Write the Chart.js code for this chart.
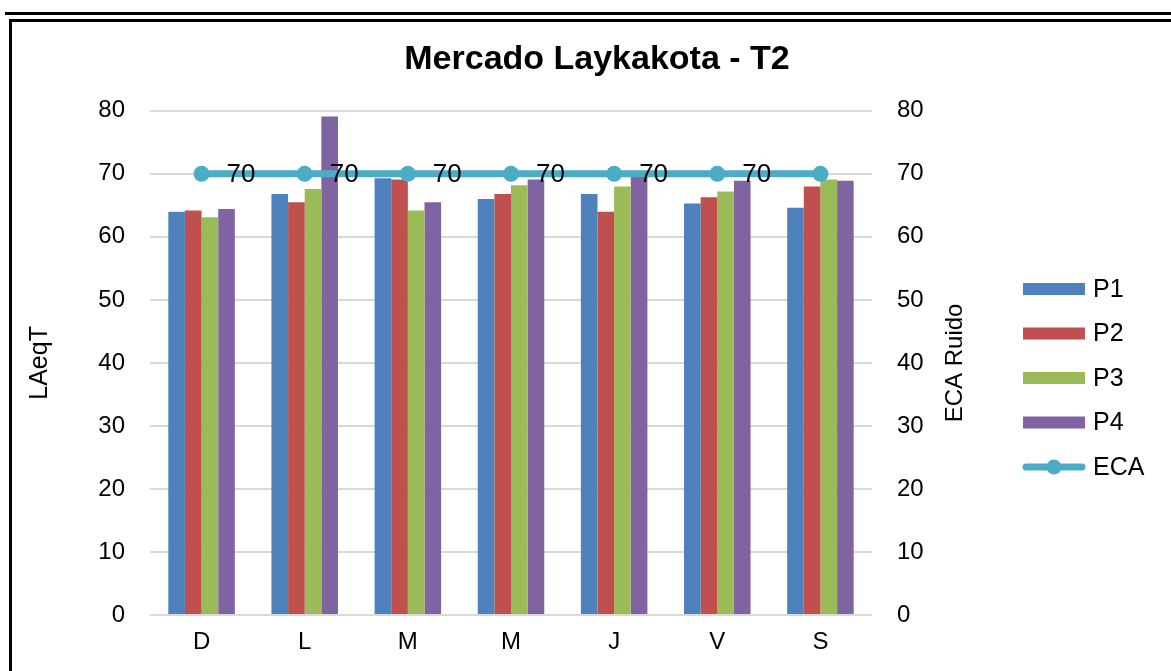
<!DOCTYPE html>
<html>
<head>
<meta charset="utf-8">
<script src="https://cdn.jsdelivr.net/npm/chart.js@4.4.0/dist/chart.umd.min.js"></script>
<style>
  html, body { margin: 0; padding: 0; background: #fff; }
  #wrap { position: relative; width: 1171px; height: 671px; overflow: hidden; }
  #chart { position: absolute; left: 0; top: 0; }
  .rule { position: absolute; background: #000; }
</style>
</head>
<body>
<div id="wrap">
  <canvas id="chart" width="1171" height="671"></canvas>
  <div class="rule" style="left:5px;top:12px;width:1166px;height:3px"></div>
  <div class="rule" style="left:9px;top:19px;width:1162px;height:3px"></div>
  <div class="rule" style="left:9px;top:19px;width:3px;height:652px"></div>
</div>
<script>
/* Mercado Laykakota - T2 : niveles por dia */

var dias = ['D', 'L', 'M', 'M', 'J', 'V', 'S'];
var p1 = [64.0, 66.8, 69.3, 66.0, 66.8, 65.3, 64.6];
var p2 = [64.2, 65.5, 69.1, 66.8, 64.0, 66.3, 68.0];
var p3 = [63.1, 67.6, 64.2, 68.2, 68.0, 67.2, 69.1];
var p4 = [64.4, 79.1, 65.5, 69.1, 69.6, 68.9, 68.9];
var eca = [70, 70, 70, 70, 70, 70, 70];

var FONT = '"Liberation Sans", Arial, sans-serif';
Chart.defaults.font.family = FONT;
Chart.defaults.color = '#000';

// etiquetas "70" a la derecha de los puntos ECA (la ultima no se muestra)
var ecaLabels = {
  id: 'ecaLabels',
  afterDatasetsDraw: function (chart) {
    var idx = chart.data.datasets.findIndex(function (d) { return d.label === 'ECA'; });
    var meta = chart.getDatasetMeta(idx);
    var ctx = chart.ctx;
    ctx.save();
    ctx.font = '26px ' + FONT;
    ctx.fillStyle = '#000';
    ctx.textAlign = 'left';
    ctx.textBaseline = 'middle';
    meta.data.forEach(function (pt, i) {
      if (i === meta.data.length - 1) return;
      ctx.fillText(String(chart.data.datasets[idx].data[i]), pt.x + 25, pt.y + 1);
    });
    ctx.restore();
  }
};

// leyenda a la derecha + titulo del eje secundario (girado como en Excel)
var sideLegend = {
  id: 'sideLegend',
  afterDraw: function (chart) {
    var ctx = chart.ctx;
    var area = chart.chartArea;
    ctx.save();

    ctx.font = '24px ' + FONT;
    ctx.fillStyle = '#000';
    ctx.textAlign = 'center';
    ctx.textBaseline = 'middle';
    ctx.translate(955, (area.top + area.bottom) / 2);
    ctx.rotate(-Math.PI / 2);
    ctx.fillText('ECA Ruido', 0, 0);
    ctx.setTransform(1, 0, 0, 1, 0, 0);

    var x0 = 1023, x1 = 1085, y = 289, step = 44.5;
    ctx.font = '25px ' + FONT;
    ctx.textAlign = 'left';
    chart.data.datasets.forEach(function (ds) {
      if (ds.type === 'line') {
        ctx.strokeStyle = ds.borderColor;
        ctx.lineWidth = 7;
        ctx.lineCap = 'round';
        ctx.beginPath();
        ctx.moveTo(x0 + 3, y);
        ctx.lineTo(x1 - 3, y);
        ctx.stroke();
        ctx.fillStyle = ds.pointBackgroundColor;
        ctx.beginPath();
        ctx.arc((x0 + x1) / 2, y, 7.5, 0, Math.PI * 2);
        ctx.fill();
      } else {
        ctx.fillStyle = ds.backgroundColor;
        ctx.fillRect(x0, y - 6, x1 - x0, 12);
      }
      ctx.fillStyle = '#000';
      ctx.fillText(ds.label, 1093, y + 1);
      y += step;
    });
    ctx.restore();
  }
};

var tickFont = { size: 24 };

new Chart(document.getElementById('chart'), {
  type: 'bar',
  data: {
    labels: dias,
    datasets: [
      { label: 'P1', data: p1, backgroundColor: '#4f81bd', yAxisID: 'y', order: 1 },
      { label: 'P2', data: p2, backgroundColor: '#c0504d', yAxisID: 'y', order: 1 },
      { label: 'P3', data: p3, backgroundColor: '#9bbb59', yAxisID: 'y', order: 1 },
      { label: 'P4', data: p4, backgroundColor: '#8064a2', yAxisID: 'y', order: 1 },
      {
        label: 'ECA', type: 'line', data: eca, yAxisID: 'y1', order: 0,
        borderColor: '#4bacc6', borderWidth: 7,
        pointBackgroundColor: '#4bacc6', pointBorderColor: '#4bacc6',
        pointRadius: 8, pointBorderWidth: 0
      }
    ]
  },
  options: {
    responsive: false,
    animation: false,
    layout: { padding: { left: 23, right: 0, top: 0, bottom: 0 } },
    datasets: {
      bar: { categoryPercentage: 0.645, barPercentage: 1, borderWidth: 0 }
    },
    plugins: {
      legend: { display: false },
      tooltip: { enabled: false },
      title: {
        display: true,
        text: 'Mercado Laykakota - T2',
        color: '#000',
        font: { size: 34, weight: 'bold' },
        padding: { top: 39, bottom: 31 }
      }
    },
    scales: {
      x: {
        grid: { display: false, drawTicks: false },
        border: { display: false },
        ticks: { color: '#000', font: tickFont, padding: 13 },
        afterFit: function (s) { s.height = 56; }
      },
      y: {
        position: 'left',
        min: 0, max: 80,
        ticks: { stepSize: 10, padding: 25, color: '#000', font: tickFont },
        grid: { color: '#d9d9d9', lineWidth: 2, drawTicks: false },
        border: { display: false },
        title: { display: true, text: 'LAeqT', color: '#000', font: { size: 25 }, padding: { top: 2, bottom: 0 } },
        afterFit: function (s) { s.width = 127; }
      },
      y1: {
        position: 'right',
        min: 0, max: 80,
        ticks: { stepSize: 10, padding: 25, color: '#000', font: tickFont },
        grid: { display: false, drawTicks: false },
        border: { display: false },
        afterFit: function (s) { s.width = 299; }
      }
    }
  },
  plugins: [ecaLabels, sideLegend]
});
</script>
</body>
</html>
